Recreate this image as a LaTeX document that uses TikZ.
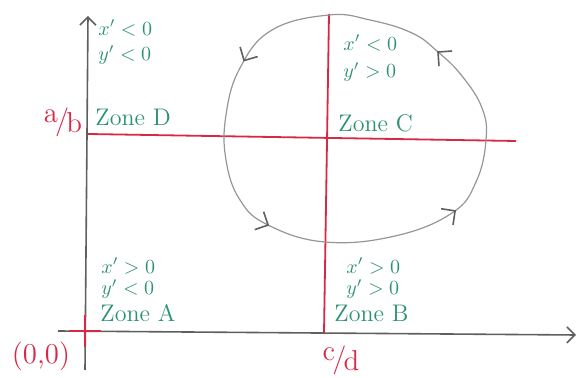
\documentclass[tikz,border=0pt]{standalone}
\usepackage{tikz}
\usetikzlibrary{arrows.meta,positioning,decorations.markings}
\usepackage{xcolor}
\definecolor{ZoneGreen}{RGB}{45,145,115}
\definecolor{LineRed}{RGB}{215,40,70}
\definecolor{AxisGray}{RGB}{95,95,95}
\definecolor{OrbitGray}{RGB}{150,150,150}
\newcommand{\slashfrac}[2]{\raisebox{0.5ex}{#1}\kern-0.1em/\kern-0.1em\raisebox{-0.3ex}{#2}}
\tikzset{
  axis/.style={-{Straight Barb[length=4pt,width=8pt]}, AxisGray, line width=0.8pt},
  sepline/.style={LineRed, line width=0.9pt},
  orbit/.style={OrbitGray, line width=0.6pt},
  orbitarrow/.style={AxisGray, line width=0.8pt},
  signlabel/.style={ZoneGreen, font=\normalsize, inner sep=0pt, anchor=west},
  zonelabel/.style={ZoneGreen, font=\large, inner sep=0pt, anchor=west},
  redlabel/.style={LineRed, font=\Large, inner sep=0pt}
}

\begin{document}
\begin{tikzpicture}[x=0.5pt,y=-0.5pt]
      \useasboundingbox (0,0) rectangle (578,378);
      \coordinate (ybot) at (85,370);
      \coordinate (ytop) at (88,16);
      \coordinate (xbeg) at (58,331);
      \coordinate (xend) at (576,335);
      \coordinate (origin) at (85,331);
      \coordinate (hbeg) at (88,134);
      \coordinate (hend) at (516,141);
      \coordinate (vtop) at (329,14);
      \coordinate (vbot) at (324,333);
      \draw[axis] (ybot) -- (ytop);
      \draw[axis] (xbeg) -- (xend);
      \draw[sepline] (hbeg) -- (hend);
      \draw[sepline] (vtop) -- (vbot);
      \draw[sepline] ([xshift=-8]origin) -- ([xshift=8]origin);
      \draw[sepline] ([yshift=-8]origin) -- ([yshift=8]origin);
      \draw[orbit, decoration={markings,
          mark=at position 0.055 with {\arrow[orbitarrow]{Straight Barb[length=5pt,width=10pt]}},
          mark=at position 0.29 with {\arrow[orbitarrow]{Straight Barb[length=5pt,width=10pt]}},
          mark=at position 0.54 with {\arrow[orbitarrow]{Straight Barb[length=5pt,width=10pt]}},
          mark=at position 0.775 with {\arrow[orbitarrow]{Straight Barb[length=5pt,width=10pt]}}},
        postaction={decorate}]
        plot[smooth cycle, tension=0.7] coordinates {(329,15) (272,30) (240,68) (226,115) (226,160)
          (240,200) (268,225) (325,242) (395,236) (452,213) (476,182) (486,140) (482,108)
          (462,76) (438,52) (412,33) (370,20)};
      \node[redlabel] (lblorigin) at (41,356) {(0,0)};
      \node[redlabel] (lblab) at (63,122) {\slashfrac{a}{b}};
      \node[redlabel] (lblcd) at (341,360) {\slashfrac{c}{d}};
      \node[signlabel] (dx) at (98,28) {$x'<0$};
      \node[signlabel] (dy) at (98,55) {$y'<0$};
      \node[zonelabel] (zoned) at (95,117) {Zone D};
      \node[signlabel] (cx) at (343,43) {$x'<0$};
      \node[signlabel] (cy) at (343,72) {$y'>0$};
      \node[zonelabel] (zonec) at (338,123) {Zone C};
      \node[signlabel] (ax) at (101,266) {$x'>0$};
      \node[signlabel] (ay) at (101,289) {$y'<0$};
      \node[zonelabel] (zonea) at (100,313) {Zone A};
      \node[signlabel] (bx) at (346,266) {$x'>0$};
      \node[signlabel] (by) at (346,289) {$y'>0$};
      \node[zonelabel] (zoneb) at (334,313) {Zone B};
    \end{tikzpicture}
\end{document}
